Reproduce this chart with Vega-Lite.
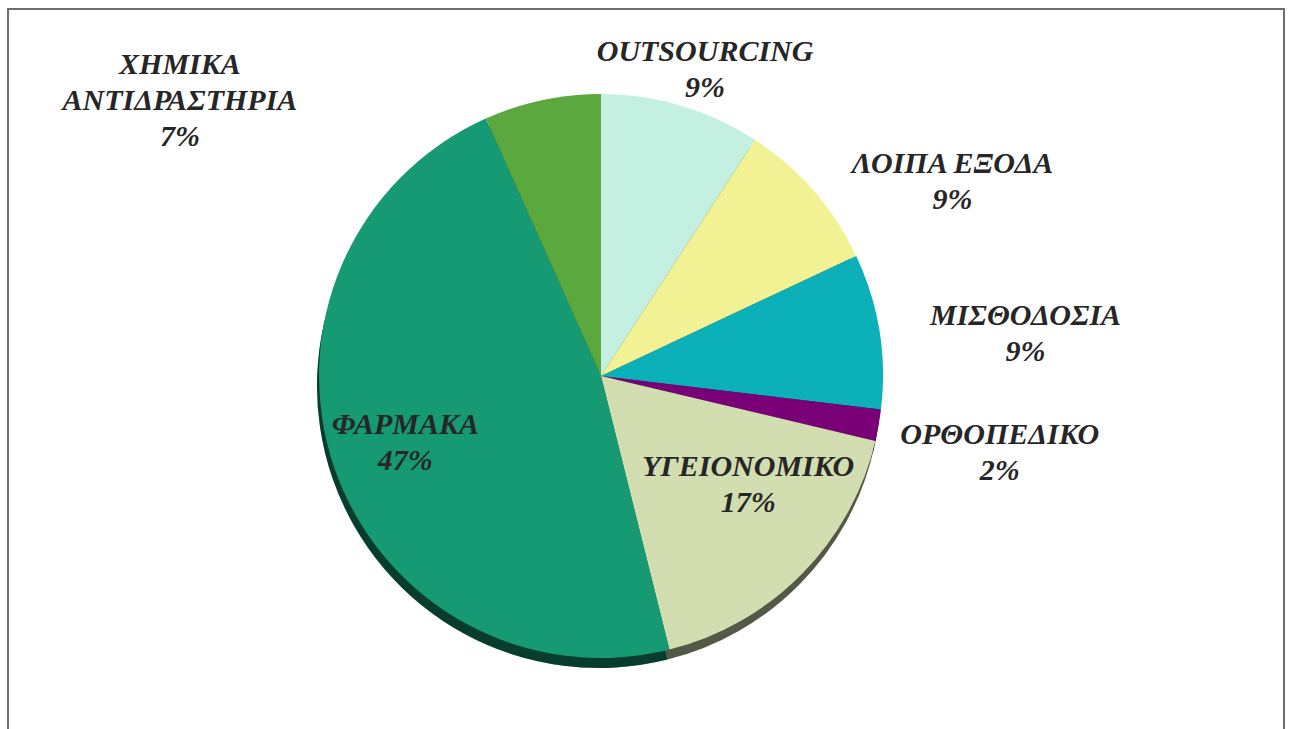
{
  "$schema": "https://vega.github.io/schema/vega-lite/v6.json",
  "width": 1276,
  "height": 740,
  "autosize": "none",
  "padding": {"left": 8, "top": 9, "right": 6, "bottom": 0},
  "background": "white",
  "view": {"stroke": "#6e6e6e", "strokeWidth": 2},
  "config": {"view": {"stroke": "#6e6e6e", "strokeWidth": 2}},
  "data": {
    "values": [
      {"cat": "OUTSOURCING", "value": 9.2},
      {"cat": "ΛΟΙΠΑ ΕΞΟΔΑ", "value": 8.8},
      {"cat": "ΜΙΣΘΟΔΟΣΙΑ", "value": 8.9},
      {"cat": "ΟΡΘΟΠΕΔΙΚΟ", "value": 1.8},
      {"cat": "ΥΓΕΙΟΝΟΜΙΚΟ", "value": 17.4},
      {"cat": "ΦΑΡΜΑΚΑ", "value": 47.2},
      {"cat": "ΧΗΜΙΚΑ ΑΝΤΙΔΡΑΣΤΗΡΙΑ", "value": 6.7}
    ]
  },
  "transform": [
    {"calculate": "replace(datum.cat, 'ΧΗΜΙΚΑ ', 'ΧΗΜΙΚΑ\\n') + '\\n' + format(datum.value/100, '.0%')", "as": "lbl"}
  ],
  "encoding": {
    "theta": {"field": "value", "type": "quantitative", "stack": true}
  },
  "layer": [
    {
      "mark": {"type": "arc", "outerRadius": 282, "x": 591, "y": 377},
      "encoding": {
        "color": {
          "field": "cat", "type": "nominal", "legend": null,
          "scale": {
            "domain": ["OUTSOURCING", "ΛΟΙΠΑ ΕΞΟΔΑ", "ΜΙΣΘΟΔΟΣΙΑ", "ΟΡΘΟΠΕΔΙΚΟ", "ΥΓΕΙΟΝΟΜΙΚΟ", "ΦΑΡΜΑΚΑ", "ΧΗΜΙΚΑ ΑΝΤΙΔΡΑΣΤΗΡΙΑ"],
            "range": ["#c4f0e2", "#f2f294", "#0cb0b8", "#7a0078", "#d2ddb0", "#159a74", "#5ba83f"]
          }
        }
      }
    },
    {
      "mark": {"type": "arc", "outerRadius": 282, "x": 591, "y": 377, "fill": "black", "opacity": 0.6}
    },
    {
      "mark": {"type": "arc", "outerRadius": 282, "x": 593, "y": 367},
      "encoding": {
        "color": {"field": "cat", "type": "nominal", "legend": null}
      }
    },
    {
      "mark": {
        "type": "text",
        "x": 593,
        "y": 367,
        "radius": {"expr": "({'OUTSOURCING':323,'ΛΟΙΠΑ ΕΞΟΔΑ':401,'ΜΙΣΘΟΔΟΣΙΑ':426,'ΟΡΘΟΠΕΔΙΚΟ':406,'ΥΓΕΙΟΝΟΜΙΚΟ':183,'ΦΑΡΜΑΚΑ':207,'ΧΗΜΙΚΑ ΑΝΤΙΔΡΑΣΤΗΡΙΑ':340})[datum.cat]"},
        "dx": {"expr": "({'OUTSOURCING':12,'ΛΟΙΠΑ ΕΞΟΔΑ':49,'ΜΙΣΘΟΔΟΣΙΑ':4,'ΟΡΘΟΠΕΔΙΚΟ':-1,'ΥΓΕΙΟΝΟΜΙΚΟ':17,'ΦΑΡΜΑΚΑ':0,'ΧΗΜΙΚΑ ΑΝΤΙΔΡΑΣΤΗΡΙΑ':-350})[datum.cat]"},
        "dy": {"expr": "({'OUTSOURCING':-14,'ΛΟΙΠΑ ΕΞΟΔΑ':51,'ΜΙΣΘΟΔΟΣΙΑ':8,'ΟΡΘΟΠΕΔΙΚΟ':-12,'ΥΓΕΙΟΝΟΜΙΚΟ':-38,'ΦΑΡΜΑΚΑ':-19,'ΧΗΜΙΚΑ ΑΝΤΙΔΡΑΣΤΗΡΙΑ':21})[datum.cat]"},
        "font": "Liberation Serif",
        "fontStyle": "italic",
        "fontWeight": "bold",
        "fontSize": 30,
        "lineHeight": 36,
        "lineBreak": "\n",
        "fill": "#262626",
        "align": "center",
        "baseline": "middle"
      },
      "encoding": {
        "text": {"field": "lbl", "type": "nominal"}
      }
    }
  ]
}
